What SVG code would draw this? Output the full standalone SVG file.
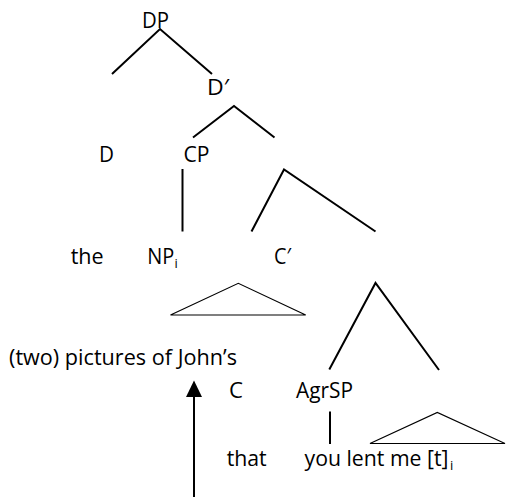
<svg xmlns="http://www.w3.org/2000/svg" width="508" height="498" viewBox="0 0 508 498">
<style>
text{font-family:"Open Sans","Liberation Sans",sans-serif;font-size:21px;fill:#000}
text.sub{font-size:13px}
.br{stroke:#000;stroke-width:2;fill:none;stroke-linecap:butt}
.tri{stroke:#000;stroke-width:1.2;fill:none;stroke-linejoin:miter}
</style>
<rect width="508" height="498" fill="#fff"/>
<g id="connectors">
<polyline class="br" points="112,74 160,29 212,74"/>
<polyline class="br" points="193,137.5 234,106 274.5,137.5"/>
<line class="br" x1="182.5" y1="169" x2="182.5" y2="231.5"/>
<polyline class="br" points="251.5,231.5 284,169.5 375.5,231.5"/>
<polygon class="tri" points="170.5,315 238.3,283.3 305.7,315"/>
<polyline class="br" points="329.3,369.5 375.5,283 439,370"/>
<line class="br" x1="330" y1="411.5" x2="330" y2="444"/>
<polygon class="tri" points="370,443.5 437.3,412.5 505,443.5"/>
<line class="br" x1="194" y1="395" x2="194" y2="497"/>
<polygon points="194,380.5 186,397 202,397" fill="#000"/>
</g>
<g id="DP"><text x="142" y="28" textLength="27" lengthAdjust="spacingAndGlyphs">DP</text></g>
<g id="Dbar"><text x="207" y="95" textLength="22" lengthAdjust="spacingAndGlyphs">D′</text></g>
<g id="D"><text x="99" y="162" textLength="15" lengthAdjust="spacingAndGlyphs">D</text></g>
<g id="CP"><text x="183.5" y="162" textLength="26" lengthAdjust="spacingAndGlyphs">CP</text></g>
<g id="the"><text x="70.7" y="264" textLength="33" lengthAdjust="spacingAndGlyphs">the</text></g>
<g id="NP"><text x="147.3" y="264" textLength="27" lengthAdjust="spacingAndGlyphs">NP</text><text class="sub" x="174.5" y="267.5">i</text></g>
<g id="Cbar"><text x="274" y="264" textLength="17" lengthAdjust="spacingAndGlyphs">C′</text></g>
<g id="pictures"><text x="9" y="365" textLength="228" lengthAdjust="spacingAndGlyphs">(two) pictures of John’s</text></g>
<g id="C"><text x="229" y="398" textLength="14" lengthAdjust="spacingAndGlyphs">C</text></g>
<g id="AgrSP"><text x="296" y="398" textLength="57" lengthAdjust="spacingAndGlyphs">AgrSP</text></g>
<g id="that"><text x="226.7" y="466" textLength="40" lengthAdjust="spacingAndGlyphs">that</text></g>
<g id="you"><text x="304.5" y="466" textLength="144" lengthAdjust="spacingAndGlyphs">you lent me [t]</text><text class="sub" x="450" y="470">i</text></g>
</svg>
